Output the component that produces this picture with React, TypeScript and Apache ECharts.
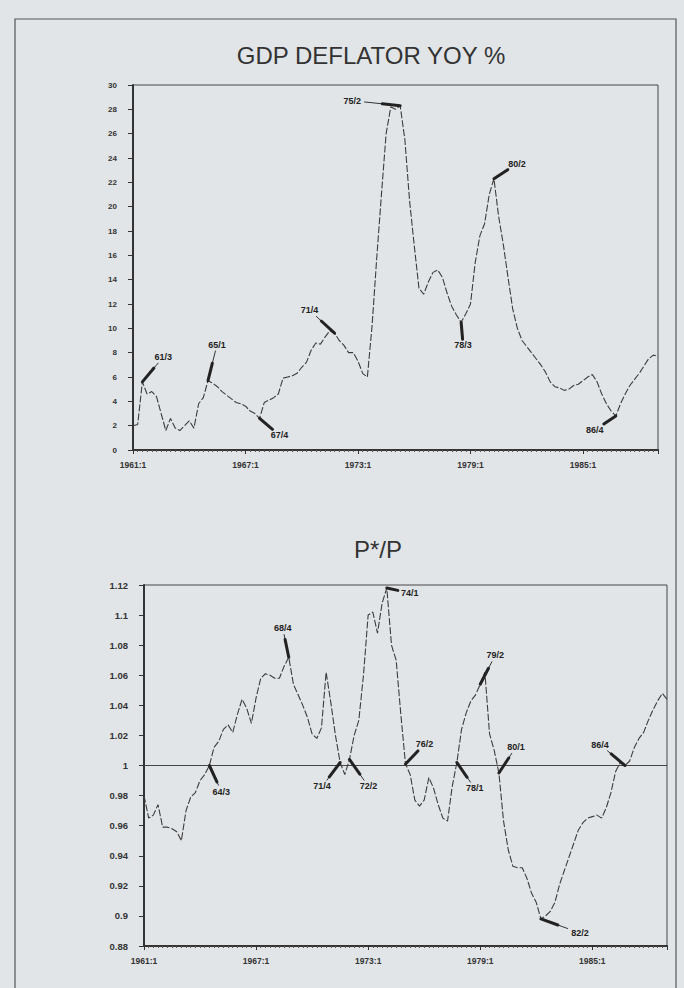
import React, { useEffect, useRef } from "react";
import * as echarts from "echarts";

// Quarter categories 1961:1 .. 1989:1
const quarters: string[] = [];
for (let y = 1961; y <= 1989; y++) {
  for (let q = 1; q <= 4; q++) {
    if (quarters.length < 113) quarters.push(`${y}:${q}`);
  }
}

// GDP deflator YoY % (quarterly)
const deflatorValues: number[] = [
  2.0, 2.1, 5.6, 4.6, 4.8, 4.4, 3.0, 1.6, 2.6, 1.8,
  1.6, 2.0, 2.4, 1.8, 3.8, 4.3, 5.7, 5.5, 5.2, 4.8,
  4.5, 4.2, 3.9, 3.8, 3.6, 3.2, 3.0, 2.6, 3.9, 4.1,
  4.3, 4.6, 5.9, 6.0, 6.1, 6.3, 6.8, 7.2, 8.2, 8.8,
  8.7, 9.3, 9.8, 9.6, 9.0, 8.6, 8.0, 8.0, 7.3, 6.3,
  6.0, 10.2, 15.8, 21.0, 26.0, 28.2, 28.0, 28.3, 25.5, 20.5,
  16.8, 13.3, 12.8, 13.8, 14.6, 14.8, 14.2, 12.9, 11.8, 11.1,
  10.5, 11.2, 12.0, 15.4, 17.6, 18.6, 21.0, 22.3, 19.2, 16.9,
  14.2, 11.6, 10.0, 9.0, 8.5, 8.0, 7.5, 7.0, 6.4, 5.6,
  5.2, 5.1, 4.9, 5.0, 5.3, 5.4, 5.7, 6.0, 6.2, 5.6,
  4.6, 3.8, 3.2, 2.8, 3.8, 4.6, 5.3, 5.8, 6.3, 6.9,
  7.5, 7.8, 7.7,
];

// P*/P (quarterly)
const pStarValues: number[] = [
  0.98, 0.965, 0.967, 0.974, 0.959, 0.959, 0.958, 0.956, 0.95, 0.97,
  0.979, 0.982, 0.99, 0.994, 1.0, 1.012, 1.016, 1.024, 1.027, 1.022,
  1.034, 1.044, 1.038, 1.028, 1.045, 1.058, 1.061, 1.06, 1.058, 1.058,
  1.066, 1.072, 1.054, 1.047, 1.04, 1.032, 1.021, 1.018, 1.025, 1.062,
  1.042, 1.02, 1.002, 0.994, 1.004, 1.02, 1.03, 1.06, 1.1, 1.102,
  1.088, 1.108, 1.118, 1.08, 1.07, 1.034, 1.001, 0.994, 0.977, 0.973,
  0.977, 0.992, 0.985, 0.974, 0.965, 0.963, 0.986, 1.002, 1.024, 1.035,
  1.043, 1.047, 1.054, 1.062, 1.021, 1.01, 0.995, 0.963, 0.944, 0.933,
  0.932, 0.932, 0.925, 0.915, 0.909, 0.898, 0.9, 0.903, 0.909, 0.921,
  0.93, 0.939, 0.948, 0.957, 0.962, 0.965, 0.966, 0.967, 0.965, 0.972,
  0.982, 0.996, 1.002, 1.0, 1.003, 1.012, 1.018, 1.022, 1.03, 1.037,
  1.043, 1.048, 1.044,
];

// Annotated turning points
const deflatorMarkText: string[] = ["61/3", "65/1", "67/4", "71/4", "75/2", "78/3", "80/2", "86/4"];
const deflatorMarkIndex: number[] = [2, 16, 27, 43, 57, 70, 77, 103];

const pStarMarkText: string[] = ["64/3", "68/4", "71/4", "72/2", "74/1", "76/2", "78/1", "79/2", "80/1", "82/2", "86/4"];
const pStarMarkIndex: number[] = [14, 31, 42, 44, 52, 56, 67, 72, 76, 85, 103];

// Label placement (pixel offsets from the annotated point) – layout only
const deflatorLabelOffset: number[][] = [
  [21, -25], [9, -36], [20, 17], [-25, -23], [-48, -5], [2, 23], [23, -15], [-21, 14],
];
const pStarLabelOffset: number[][] = [
  [12, 26], [-6, -29], [-18, 24], [19, 27], [23, 5], [19, -20], [18, 26], [15, -29], [17, -26], [39, 14], [-25, -21],
];

const BG = "#e2e5e8";
const INK = "#333";
const FONT = "'Liberation Sans', Arial, sans-serif";

function annotationSeries(
  axisIndex: number,
  values: number[],
  idx: number[],
  texts: string[],
  offsets: number[][]
) {
  return {
    type: "custom",
    xAxisIndex: axisIndex,
    yAxisIndex: axisIndex,
    coordinateSystem: "cartesian2d",
    z: 5,
    silent: true,
    data: idx.map((i, k) => [i, values[i], offsets[k][0], offsets[k][1]]),
    renderItem: (params: any, api: any) => {
      const p = api.coord([api.value(0), api.value(1)]);
      const dx = api.value(2);
      const dy = api.value(3);
      const len = Math.hypot(dx, dy) || 1;
      const ux = dx / len;
      const uy = dy / len;
      const shrink = Math.min(
        Math.abs(ux) > 1e-6 ? 12 / Math.abs(ux) : 1e9,
        Math.abs(uy) > 1e-6 ? 6 / Math.abs(uy) : 1e9
      );
      const lx = p[0] + dx;
      const ly = p[1] + dy;
      const total = Math.max(len - shrink, 4);
      const thick = Math.min(total, 18);
      const ex = p[0] + ux * total;
      const ey = p[1] + uy * total;
      const tx = p[0] + ux * thick;
      const ty = p[1] + uy * thick;
      return {
        type: "group",
        children: [
          {
            type: "line",
            shape: { x1: p[0], y1: p[1], x2: ex, y2: ey },
            style: { stroke: "#333", lineWidth: 1 },
          },
          {
            type: "line",
            shape: { x1: p[0], y1: p[1], x2: tx, y2: ty },
            style: { stroke: "#222", lineWidth: 3, lineCap: "round" },
          },
          {
            type: "text",
            x: lx,
            y: ly,
            style: {
              text: texts[params.dataIndex],
              fill: "#222",
              font: `bold 9px ${FONT}`,
              align: "center",
              verticalAlign: "middle",
            },
          },
        ],
      };
    },
  };
}

export default function App() {
  const ref = useRef<HTMLDivElement>(null);

  useEffect(() => {
    document.body.style.margin = "0";
    document.body.style.background = BG;
    if (!ref.current) return;
    const chart = echarts.init(ref.current, undefined, { renderer: "svg" });

    const xAxisBase = (gridIndex: number) => ({
      type: "value",
      gridIndex,
      min: 0,
      max: quarters.length - 1,
      interval: 24,
      axisLine: { show: true, lineStyle: { color: INK, width: 2 } },
      axisTick: { show: true, length: 4, lineStyle: { color: INK, width: 1 } },
      minorTick: { show: true, splitNumber: 24, length: 2, lineStyle: { color: "#555", width: 1 } },
      splitLine: { show: false },
      minorSplitLine: { show: false },
      axisLabel: {
        color: INK,
        fontSize: 8.5,
        fontWeight: "bold",
        fontFamily: FONT,
        margin: 10,
        showMaxLabel: false,
        formatter: (v: number) => quarters[Math.round(v)] ?? "",
      },
    });

    const option: any = {
      animation: false,
      backgroundColor: BG,
      graphic: [
        {
          type: "rect",
          shape: { x: 15, y: 19, width: 661, height: 1000 },
          style: { fill: "none", stroke: "#555", lineWidth: 1.2 },
          silent: true,
        },
        {
          type: "text",
          x: 371,
          y: 55,
          style: {
            text: "GDP DEFLATOR YOY %",
            fill: INK,
            font: `24px ${FONT}`,
            align: "center",
            verticalAlign: "middle",
          },
        },
        {
          type: "text",
          x: 378,
          y: 549,
          style: {
            text: "P*/P",
            fill: INK,
            font: `24px ${FONT}`,
            align: "center",
            verticalAlign: "middle",
          },
        },
      ],
      grid: [
        { left: 133, top: 85, width: 525, height: 365, show: true, borderColor: "#444", borderWidth: 1, backgroundColor: "transparent" },
        { left: 144, top: 585, width: 523, height: 361, show: true, borderColor: "#444", borderWidth: 1, backgroundColor: "transparent" },
      ],
      xAxis: [xAxisBase(0), xAxisBase(1)],
      yAxis: [
        {
          type: "value",
          gridIndex: 0,
          min: 0,
          max: 30,
          interval: 2,
          axisLine: { show: true, lineStyle: { color: INK, width: 2 } },
          axisTick: { show: true, length: 5, lineStyle: { color: INK } },
          splitLine: { show: false },
          axisLabel: { color: INK, fontSize: 8, fontWeight: "bold", fontFamily: FONT, margin: 16 },
        },
        {
          type: "value",
          gridIndex: 1,
          min: 0.88,
          max: 1.12,
          interval: 0.02,
          axisLine: { show: true, lineStyle: { color: INK, width: 2 } },
          axisTick: { show: true, length: 5, lineStyle: { color: INK } },
          splitLine: { show: false },
          axisLabel: {
            color: INK,
            fontSize: 9.5,
            fontWeight: "bold",
            fontFamily: FONT,
            margin: 16,
            formatter: (v: number) => String(parseFloat(v.toFixed(2))),
          },
        },
      ],
      series: [
        {
          type: "line",
          xAxisIndex: 0,
          yAxisIndex: 0,
          data: deflatorValues.map((v, i) => [i, v]),
          showSymbol: false,
          lineStyle: { color: "#3c3c3c", width: 1.1, type: [7, 2] },
        },
        {
          type: "line",
          xAxisIndex: 1,
          yAxisIndex: 1,
          data: pStarValues.map((v, i) => [i, v]),
          showSymbol: false,
          lineStyle: { color: "#3c3c3c", width: 1.1, type: [7, 2] },
          markLine: {
            silent: true,
            symbol: "none",
            label: { show: false },
            lineStyle: { color: "#444", width: 1, type: "solid" },
            data: [{ yAxis: 1 }],
          },
        },
        annotationSeries(0, deflatorValues, deflatorMarkIndex, deflatorMarkText, deflatorLabelOffset),
        annotationSeries(1, pStarValues, pStarMarkIndex, pStarMarkText, pStarLabelOffset),
      ],
    };

    chart.setOption(option);
    return () => chart.dispose();
  }, []);

  return (
    <div
      ref={ref}
      style={{ position: "absolute", left: 0, top: 0, width: 684, height: 988 }}
    />
  );
}
